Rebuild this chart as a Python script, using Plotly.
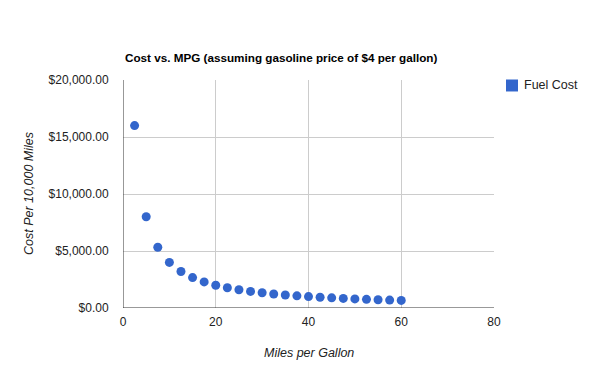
import plotly.graph_objects as go

mpg = [2.5, 5, 7.5, 10, 12.5, 15, 17.5, 20, 22.5, 25, 27.5, 30,
       32.5, 35, 37.5, 40, 42.5, 45, 47.5, 50, 52.5, 55, 57.5, 60]
fuel_cost = [16000, 8000, 5333.33, 4000, 3200, 2666.67, 2285.71, 2000,
             1777.78, 1600, 1454.55, 1333.33, 1230.77, 1142.86, 1066.67, 1000,
             941.18, 888.89, 842.11, 800, 761.90, 727.27, 695.65, 666.67]
x_ticks = [0, 20, 40, 60, 80]
y_ticks = [0, 5000, 10000, 15000, 20000]
y_tick_labels = ["$0.00", "$5,000.00", "$10,000.00", "$15,000.00", "$20,000.00"]

L, R, T, B = 123, 106, 79.5, 63
W, H = 600, 371

fig = go.Figure()
fig.add_trace(go.Scatter(
    x=mpg, y=fuel_cost, mode="markers", name="Fuel Cost",
    marker=dict(color="#3366cc", size=9, line=dict(width=0)),
    showlegend=False, cliponaxis=False,
))

fig.update_layout(
    width=W, height=H,
    margin=dict(l=L, r=R, t=T, b=B, autoexpand=False),
    paper_bgcolor="white", plot_bgcolor="white",
    font=dict(family="Liberation Sans, Arial, sans-serif", size=12, color="#222222"),
    showlegend=False,
    xaxis=dict(range=[0, 80], tickvals=x_ticks, ticktext=[str(v) for v in x_ticks],
               showgrid=True, gridcolor="#cccccc", gridwidth=1, automargin=False,
               zeroline=False, showline=False, ticks="outside", ticklen=3,
               tickcolor="rgba(0,0,0,0)",
               tickfont=dict(size=12, color="#222222")),
    yaxis=dict(range=[0, 20000], tickvals=y_ticks, ticktext=y_tick_labels,
               showgrid=True, gridcolor="#cccccc", gridwidth=1, automargin=False,
               zeroline=False, showline=False, ticks="outside", ticklen=11,
               tickcolor="rgba(0,0,0,0)",
               tickfont=dict(size=12, color="#222222")),
)

# axis baselines (dark) drawn in plot coordinates
fig.add_shape(type="line", xref="x", yref="y", x0=0, x1=80, y0=0, y1=0,
              line=dict(color="#333333", width=1), layer="above")
fig.add_shape(type="line", xref="x", yref="y", x0=0, x1=0, y0=0, y1=20000,
              line=dict(color="#333333", width=1), layer="above")

# title
fig.add_annotation(text="<b>Cost vs. MPG (assuming gasoline price of $4 per gallon)</b>",
                   xref="paper", yref="paper", x=0, y=1, xanchor="left", yanchor="bottom",
                   yshift=14, showarrow=False,
                   font=dict(size=11.7, color="#000000"))
# axis titles
fig.add_annotation(text="<i>Miles per Gallon</i>", xref="paper", yref="paper",
                   x=0.5, y=0, xanchor="center", yanchor="top", yshift=-36,
                   showarrow=False, font=dict(size=12.5, color="#222222"))
fig.add_annotation(text="<i>Cost Per 10,000 Miles</i>", xref="paper", yref="paper",
                   x=0, y=0.5, xanchor="center", yanchor="middle", xshift=-94,
                   textangle=-90, showarrow=False, font=dict(size=12.5, color="#222222"))
# legend
fig.add_shape(type="rect", xref="paper", yref="paper",
              x0=1 + (506 - 494) / (W - L - R), x1=1 + (518 - 494) / (W - L - R),
              y0=1 - (91 - T) / (H - T - B), y1=1 - (79 - T) / (H - T - B),
              fillcolor="#3366cc", line=dict(width=0))
fig.add_annotation(text="Fuel Cost", xref="paper", yref="paper",
                   x=1 + (521.5 - 494) / (W - L - R), y=1 - (85 - T) / (H - T - B),
                   xanchor="left", yanchor="middle", showarrow=False,
                   font=dict(size=12.5, color="#222222"))

fig.write_html("out.html", config={"displayModeBar": False})

# remove default browser body margin so the figure sits at the page origin
with open("out.html", "r", encoding="utf-8") as f:
    html = f.read()
html = html.replace("<body>", '<body style="margin:0;padding:0;overflow:hidden">', 1)
with open("out.html", "w", encoding="utf-8") as f:
    f.write(html)
